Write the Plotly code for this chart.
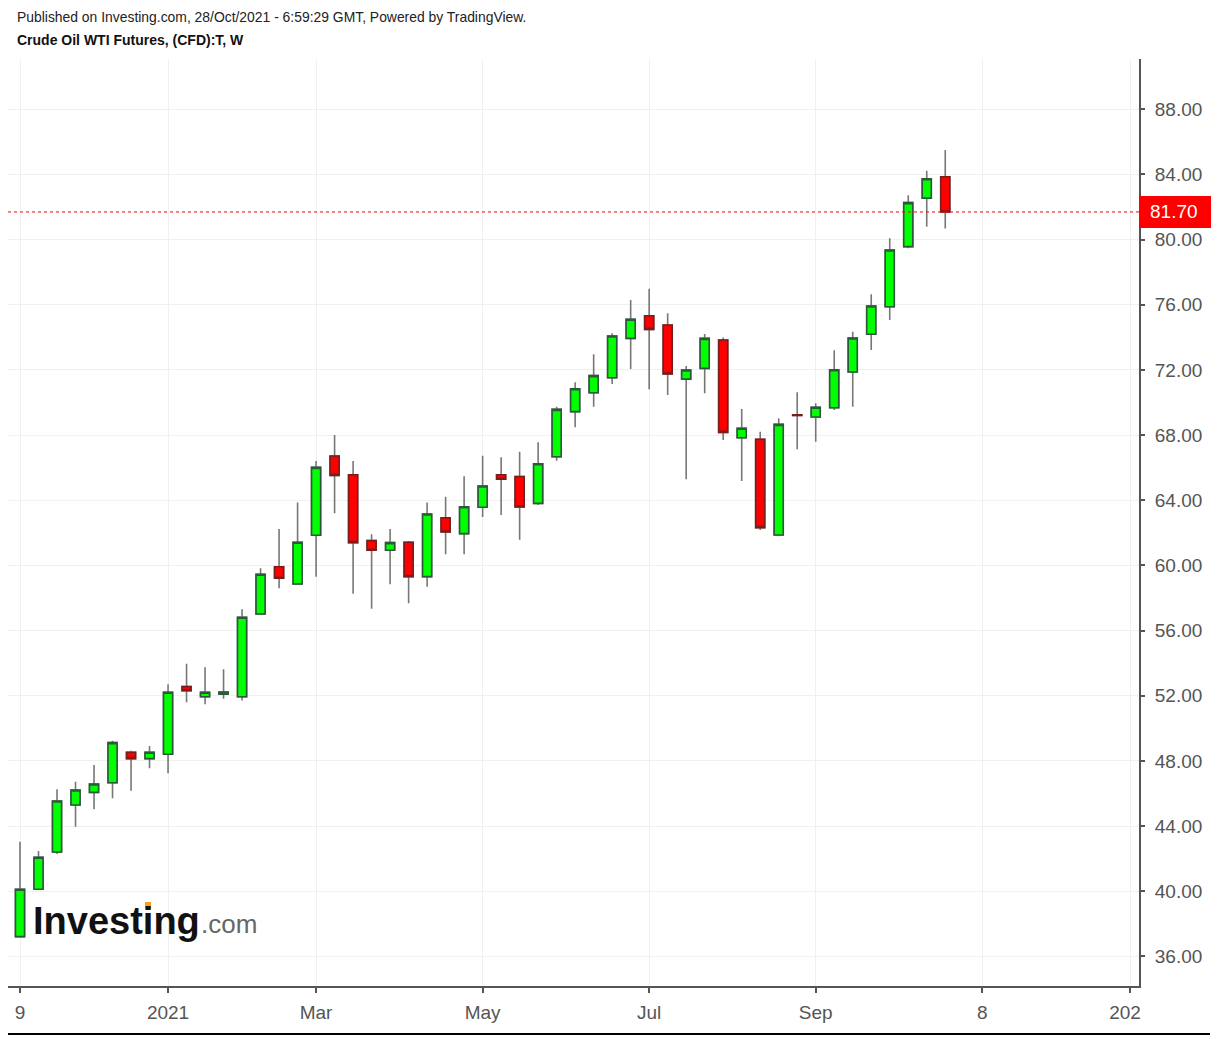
import plotly.graph_objects as go

# ---- data (weekly WTI candles) ----
dates = ["2020-11-09", "2020-11-16", "2020-11-23", "2020-11-30", "2020-12-07", "2020-12-14",
         "2020-12-21", "2020-12-28", "2021-01-04", "2021-01-11", "2021-01-18", "2021-01-25",
         "2021-02-01", "2021-02-08", "2021-02-15", "2021-02-22", "2021-03-01", "2021-03-08",
         "2021-03-15", "2021-03-22", "2021-03-29", "2021-04-05", "2021-04-12", "2021-04-19",
         "2021-04-26", "2021-05-03", "2021-05-10", "2021-05-17", "2021-05-24", "2021-05-31",
         "2021-06-07", "2021-06-14", "2021-06-21", "2021-06-28", "2021-07-05", "2021-07-12",
         "2021-07-19", "2021-07-26", "2021-08-02", "2021-08-09", "2021-08-16", "2021-08-23",
         "2021-08-30", "2021-09-06", "2021-09-13", "2021-09-20", "2021-09-27", "2021-10-04",
         "2021-10-11", "2021-10-18", "2021-10-25"]
open_ = [37.21, 40.12, 42.41, 45.29, 46.07, 46.66, 48.53, 48.14, 48.41, 52.56, 51.94, 52.10,
         51.94, 57.02, 59.92, 58.86, 61.85, 66.72, 65.57, 61.52, 60.93, 61.42, 59.31, 62.93,
         61.95, 63.57, 65.57, 65.45, 63.81, 66.67, 69.44, 70.60, 71.52, 73.94, 75.33, 74.76,
         71.44, 72.10, 73.84, 67.84, 67.74, 61.87, 69.25, 69.11, 69.68, 71.87, 74.19, 75.88,
         79.57, 82.55, 83.86]
high = [43.04, 42.47, 46.26, 46.72, 47.75, 49.24, 48.62, 48.91, 52.70, 53.97, 53.75, 53.62,
        57.31, 59.82, 62.24, 63.87, 66.41, 68.01, 66.41, 61.91, 62.24, 61.50, 63.87, 64.22,
        65.47, 66.74, 66.64, 66.98, 67.56, 69.74, 71.24, 72.96, 74.25, 76.29, 76.99, 75.48,
        72.24, 74.21, 74.00, 69.60, 68.21, 69.03, 70.63, 69.95, 73.21, 74.35, 76.64, 80.08,
        82.72, 84.23, 85.50]
low = [37.15, 40.08, 42.29, 43.96, 45.03, 45.70, 46.17, 47.55, 47.24, 51.60, 51.47, 51.82,
       51.70, 56.98, 58.60, 58.80, 59.31, 63.20, 58.26, 57.34, 58.84, 57.67, 58.69, 60.68,
       60.68, 62.97, 63.10, 61.58, 63.71, 66.43, 68.48, 69.74, 71.14, 72.06, 70.81, 70.46,
       65.29, 70.57, 67.70, 65.18, 62.17, 61.87, 67.13, 67.59, 69.54, 69.74, 73.22, 75.07,
       79.47, 80.79, 80.69]
close = [40.12, 42.08, 45.54, 46.21, 46.58, 49.12, 48.14, 48.53, 52.21, 52.31, 52.21, 52.22,
         56.82, 59.46, 59.21, 61.42, 66.02, 65.53, 61.40, 60.93, 61.40, 59.31, 63.16, 62.05,
         63.60, 64.88, 65.29, 63.59, 66.24, 69.58, 70.85, 71.65, 74.08, 75.11, 74.49, 71.75,
         72.00, 73.94, 68.17, 68.42, 62.32, 68.66, 69.21, 69.71, 72.01, 73.96, 75.93, 79.36,
         82.27, 83.74, 81.70]

x_tick_vals = ["2020-11-09", "2021-01-04", "2021-03-01", "2021-05-03", "2021-07-05",
               "2021-09-06", "2021-11-08", "2022-01-03"]
x_tick_text = ["9", "2021", "Mar", "May", "Jul", "Sep", "8", "2022"]
y_tick_vals = [36, 40, 44, 48, 52, 56, 60, 64, 68, 72, 76, 80, 84, 88]

header_text = "Published on Investing.com, 28/Oct/2021 - 6:59:29 GMT, Powered by TradingView."
title_text = "Crude Oil WTI Futures, (CFD):T, W"

last_price = close[-1]
body_top = [max(o, c) for o, c in zip(open_, close)]
body_bot = [min(o, c) for o, c in zip(open_, close)]

FONT = "Liberation Sans, Arial, sans-serif"
WICK = "#777777"

fig = go.Figure()
# wicks
fig.add_trace(go.Candlestick(
    x=dates, open=open_, high=high, low=low, close=close,
    increasing=dict(line=dict(color=WICK, width=1.6), fillcolor=WICK),
    decreasing=dict(line=dict(color=WICK, width=1.6), fillcolor=WICK),
    whiskerwidth=0, hoverinfo="skip", showlegend=False,
))
# bodies
fig.add_trace(go.Candlestick(
    x=dates, open=open_, high=body_top, low=body_bot, close=close,
    increasing=dict(line=dict(color="#2b5a3a", width=1.6), fillcolor="#00ff00"),
    decreasing=dict(line=dict(color="#7a1c1c", width=1.6), fillcolor="#ff0000"),
    whiskerwidth=0, hoverinfo="skip", showlegend=False,
))

fig.update_layout(
    width=1218, height=1039,
    margin=dict(l=8, r=79, t=59, b=53),
    paper_bgcolor="white", plot_bgcolor="white",
    font=dict(family=FONT, color="#555555"),
    showlegend=False,
    xaxis=dict(
        type="date", range=["2020-11-04 11:00", "2022-01-06 07:00"],
        rangeslider=dict(visible=False),
        tickmode="array", tickvals=x_tick_vals, ticktext=x_tick_text,
        showgrid=True, gridcolor="#f0f0f0", gridwidth=1,
        showline=True, linecolor="#555555", linewidth=2,
        ticks="outside", ticklen=5, tickcolor="#555555", tickwidth=1.5,
        tickfont=dict(size=19, color="#555555", family=FONT),
        ticklabelstandoff=3, zeroline=False, fixedrange=True,
    ),
    yaxis=dict(
        side="right", range=[34.18, 91.09],
        tickmode="array", tickvals=y_tick_vals, tickformat=".2f",
        showgrid=True, gridcolor="#f0f0f0", gridwidth=1,
        showline=True, linecolor="#555555", linewidth=2,
        ticks="outside", ticklen=4, tickcolor="#555555", tickwidth=1.5,
        tickfont=dict(size=19, color="#555555", family=FONT),
        ticklabelstandoff=6, zeroline=False, fixedrange=True,
    ),
)

shapes = [
    # last price dotted line
    dict(type="line", xref="paper", yref="y", x0=0, x1=1, y0=last_price, y1=last_price,
         line=dict(color="#ff0000", width=1, dash="dot"), layer="above"),
    # last price label box
    dict(type="rect", xref="paper", yref="y", x0=1.0, x1=1.0637,
         ysizemode="pixel", yanchor=last_price, y0=-16, y1=16,
         fillcolor="#ff0000", line=dict(width=0), layer="above"),
    # mask clipping the last time label
    dict(type="rect", xref="paper", yref="paper", x0=1.0015, x1=1.07, y0=-0.008, y1=-0.047,
         fillcolor="white", line=dict(width=0), layer="above"),
    # bottom rule
    dict(type="line", xref="paper", yref="paper", x0=0, x1=1.0628, y0=-0.0518, y1=-0.0518,
         line=dict(color="black", width=2), layer="above"),
    # orange mark on the logo i
    dict(type="rect", xref="paper", yref="paper",
         x0=(145 - 8) / 1131, x1=(151 - 8) / 1131,
         y0=(986 - 909) / 927, y1=(986 - 902) / 927,
         fillcolor="#f7a21b", line=dict(width=0), layer="above"),
]
fig.update_layout(shapes=shapes)

annotations = [
    dict(text=header_text, xref="paper", yref="paper", x=(15 - 8) / 1131, y=(986 - 17) / 927,
         xanchor="left", yanchor="middle", showarrow=False,
         font=dict(size=13.9, color="#222222", family=FONT)),
    dict(text="<b>" + title_text + "</b>", xref="paper", yref="paper", x=(15 - 8) / 1131,
         y=(986 - 40) / 927, xanchor="left", yanchor="middle", showarrow=False,
         font=dict(size=14, color="#111111", family=FONT)),
    dict(text=f"{last_price:.2f}", xref="paper", yref="y", x=1.0, y=last_price,
         xanchor="left", yanchor="middle", xshift=9, showarrow=False,
         font=dict(size=19, color="white", family=FONT)),
    dict(text="<b>Investing</b>", xref="paper", yref="paper", x=(31 - 8) / 1131,
         y=(986 - 921) / 927, xanchor="left", yanchor="middle", showarrow=False,
         font=dict(size=38, color="#111111", family=FONT)),
    dict(text=".com", xref="paper", yref="paper", x=(199 - 8) / 1131,
         y=(986 - 924) / 927, xanchor="left", yanchor="middle", showarrow=False,
         font=dict(size=26, color="#666666", family=FONT)),
]
fig.update_layout(annotations=annotations)

fig.write_html("out.html", config=dict(displayModeBar=False))
